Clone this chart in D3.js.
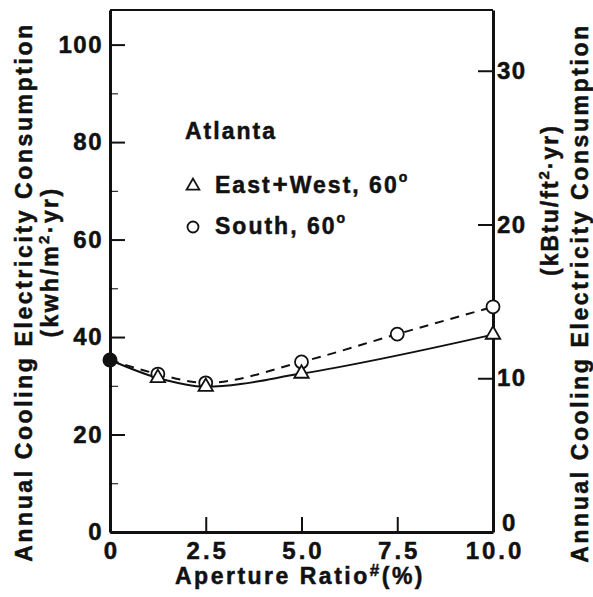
<!DOCTYPE html>
<html>
<head>
<meta charset="utf-8">
<script src="https://cdn.jsdelivr.net/npm/d3@7"></script>
<style>
  body { margin: 0; background: #fff; }
  svg text { font-family: "Liberation Sans", Arial, Helvetica, sans-serif; font-weight: bold; fill: #111; stroke: #111; stroke-width: 0.5px; }
</style>
</head>
<body>
<div id="chart"></div>
<script>
const width = 593;
const height = 597;
const margin = { top: 10, right: 100, bottom: 65, left: 110 };

// data
const apertureEW = [0, 1.25, 2.5, 5.0, 10.0];
const coolingEW = [35.3, 31.6, 29.8, 32.5, 40.5];
const apertureS = [0, 1.25, 2.5, 5.0, 7.5, 10.0];
const coolingS = [35.3, 32.4, 30.6, 34.9, 40.6, 46.2];

const xTicks = [0, 2.5, 5.0, 7.5, 10.0];
const xTickLabels = ["0", "2.5", "5.0", "7.5", "10.0"];
const yTicks = [0, 20, 40, 60, 80, 100];
const yMinorTicks = [10, 30, 50, 70, 90];
const yRightTicks = [0, 10, 20, 30];

const kwhToKbtu = 0.317; // kWh/m2.yr -> kBtu/ft2.yr
const yMax = 107.1;

const svg = d3
  .select("#chart")
  .append("svg")
  .attr("width", width)
  .attr("height", height);

const x = d3
  .scaleLinear()
  .domain([0, 10])
  .range([margin.left, width - margin.right]);

const y = d3
  .scaleLinear()
  .domain([0, yMax])
  .range([height - margin.bottom, margin.top]);

const yRight = d3
  .scaleLinear()
  .domain([0, yMax * kwhToKbtu])
  .range([height - margin.bottom, margin.top]);

const ew = apertureEW.map((a, i) => ({ a, v: coolingEW[i] }));
const south = apertureS.map((a, i) => ({ a, v: coolingS[i] }));

// top frame line
svg
  .append("line")
  .attr("x1", x(0))
  .attr("x2", x(10))
  .attr("y1", y(yMax))
  .attr("y2", y(yMax))
  .attr("stroke", "#111")
  .attr("stroke-width", 2);

// left axis
const gLeft = svg
  .append("g")
  .attr("transform", `translate(${x(0)},0)`)
  .call(d3.axisLeft(y).tickValues(yTicks).tickSizeInner(-15).tickSizeOuter(0).tickPadding(7));

svg
  .append("g")
  .attr("transform", `translate(${x(0)},0)`)
  .call(d3.axisLeft(y).tickValues(yMinorTicks).tickSizeInner(-8).tickSizeOuter(0).tickFormat(""))
  .select(".domain")
  .remove();

// right axis
const gRight = svg
  .append("g")
  .attr("transform", `translate(${x(10)},0)`)
  .call(d3.axisRight(yRight).tickValues(yRightTicks).tickSizeInner(-15).tickSizeOuter(0).tickPadding(4));

// bottom axis
const gBottom = svg
  .append("g")
  .attr("transform", `translate(0,${y(0)})`)
  .call(
    d3
      .axisBottom(x)
      .tickValues(xTicks)
      .tickSizeInner(-15)
      .tickSizeOuter(0)
      .tickPadding(10)
      .tickFormat((d, i) => xTickLabels[i])
  );

[gLeft, gRight, gBottom].forEach((g) => {
  g.select(".domain").attr("stroke", "#111").attr("stroke-width", 3);
  g.selectAll(".tick line").attr("stroke", "#111").attr("stroke-width", 2);
  g.selectAll(".tick text")
    .attr("font-size", "24px")
    .attr("letter-spacing", "1.5px")
    .attr("fill", "#111");
});
gBottom.selectAll(".tick text").attr("letter-spacing", "3px").attr("dx", "1.5px");
gRight.selectAll(".tick text").attr("text-anchor", "start");
gRight.selectAll(".tick text").filter((d) => d === 0).attr("dx", 5).attr("dy", "-0.08em");

// lines
const line = d3
  .line()
  .x((d) => x(d.a))
  .y((d) => y(d.v))
  .curve(d3.curveMonotoneX);

svg
  .append("path")
  .datum(south)
  .attr("d", line)
  .attr("fill", "none")
  .attr("stroke", "#111")
  .attr("stroke-width", 2)
  .attr("stroke-dasharray", "9,7");

svg
  .append("path")
  .datum(ew)
  .attr("d", line)
  .attr("fill", "none")
  .attr("stroke", "#111")
  .attr("stroke-width", 2);

// markers
const tri = d3.symbol().type(d3.symbolTriangle).size(90);

svg
  .selectAll("circle.south")
  .data(south.filter((d) => d.a > 0))
  .join("circle")
  .attr("class", "south")
  .attr("cx", (d) => x(d.a))
  .attr("cy", (d) => y(d.v))
  .attr("r", 6.5)
  .attr("fill", "#fff")
  .attr("stroke", "#111")
  .attr("stroke-width", 1.8);

svg
  .selectAll("path.ew")
  .data(ew.filter((d) => d.a > 0))
  .join("path")
  .attr("class", "ew")
  .attr("d", tri)
  .attr("transform", (d) => `translate(${x(d.a)},${y(d.v)})`)
  .attr("fill", "#fff")
  .attr("stroke", "#111")
  .attr("stroke-width", 1.8);

// shared starting point
svg
  .append("circle")
  .datum(ew[0])
  .attr("cx", (d) => x(d.a))
  .attr("cy", (d) => y(d.v))
  .attr("r", 7.5)
  .attr("fill", "#111");

// legend
svg
  .append("text")
  .attr("x", 185)
  .attr("y", 139)
  .attr("font-size", "23px")
  .attr("letter-spacing", "2px")
  .text("Atlanta");

svg
  .append("path")
  .attr("d", d3.symbol().type(d3.symbolTriangle).size(70))
  .attr("transform", "translate(193,186)")
  .attr("fill", "#fff")
  .attr("stroke", "#111")
  .attr("stroke-width", 1.8);

svg
  .append("circle")
  .attr("cx", 193)
  .attr("cy", 227)
  .attr("r", 5.5)
  .attr("fill", "#fff")
  .attr("stroke", "#111")
  .attr("stroke-width", 1.8);

const leg1 = svg
  .append("text")
  .attr("x", 215)
  .attr("y", 193)
  .attr("font-size", "23px")
  .attr("letter-spacing", "2px");
leg1.append("tspan").text("East");
leg1.append("tspan").attr("font-size", "26px").attr("dx", 1).text("+");
leg1.append("tspan").text("West, 60");
leg1.append("tspan").attr("dy", -11).attr("font-size", "14px").text("o");

const leg2 = svg
  .append("text")
  .attr("x", 215)
  .attr("y", 234)
  .attr("font-size", "23px")
  .attr("letter-spacing", "2px");
leg2.append("tspan").text("South, 60");
leg2.append("tspan").attr("dy", -11).attr("font-size", "14px").text("o");

// axis titles
function vTitle(cx, cy, parts, spacing) {
  const t = svg
    .append("text")
    .attr("transform", `translate(${cx},${cy}) rotate(-90)`)
    .attr("text-anchor", "middle")
    .attr("font-size", "23px")
    .attr("letter-spacing", spacing);
  parts.forEach((p) => {
    const s = t.append("tspan").text(p.t);
    if (p.sup) s.attr("dy", -9).attr("font-size", "15px");
    if (p.down) s.attr("dy", 9);
  });
  return t;
}

vTitle(32, 292, [{ t: "Annual Cooling Electricity Consumption" }], "2.6px");
vTitle(58, 262, [{ t: "(kwh/m" }, { t: "2", sup: true }, { t: "·yr)", down: true }], "2.4px");
vTitle(558, 200, [{ t: "(kBtu/ft" }, { t: "2", sup: true }, { t: "·yr)", down: true }], "2px");
vTitle(588, 293, [{ t: "Annual Cooling Electricity Consumption" }], "2.6px");

const xTitle = svg
  .append("text")
  .attr("x", 300)
  .attr("y", 584)
  .attr("text-anchor", "middle")
  .attr("font-size", "23px")
  .attr("letter-spacing", "2.5px");
xTitle.append("tspan").text("Aperture Ratio");
xTitle.append("tspan").attr("dy", -8).attr("font-size", "17px").text("#");
xTitle.append("tspan").attr("dy", 8).text("(%)");
</script>
</body>
</html>
